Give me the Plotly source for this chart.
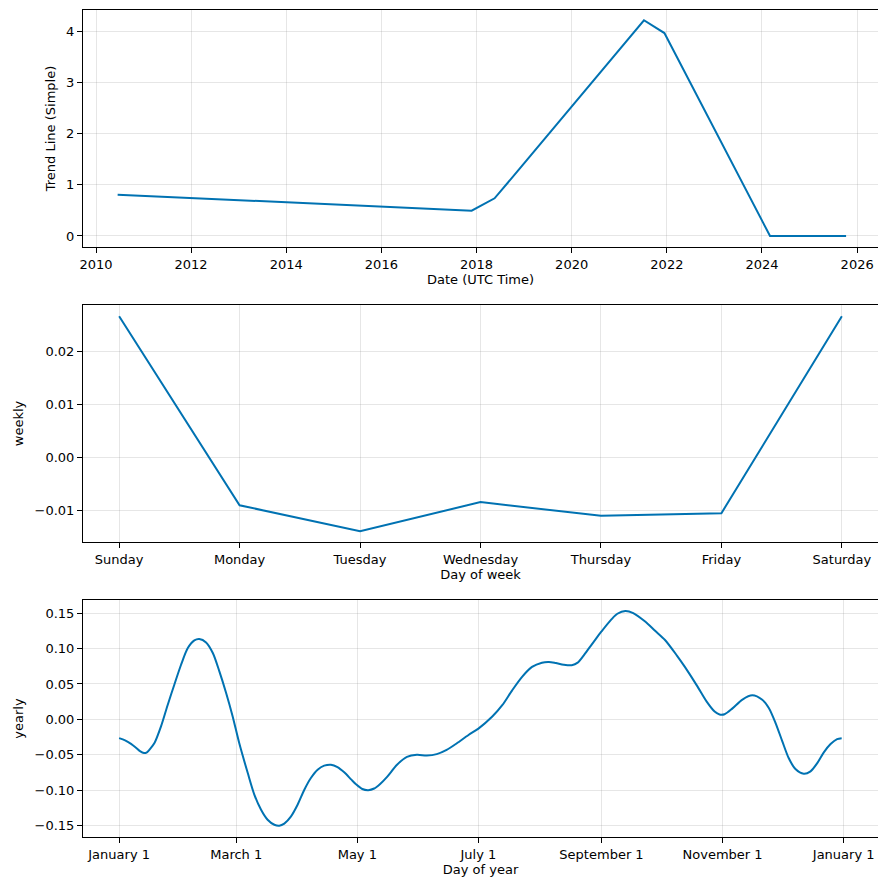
import pandas as pd
import plotly.graph_objects as go

# ---- data ----
trend_dates = ["2010-06-16", "2017-11-24", "2018-05-19", "2018-11-10",
               "2021-07-09", "2021-12-13", "2024-03-03", "2025-10-08"]
trend_values = [0.807, 0.494, 0.735, 1.26, 4.21, 3.96, 0.0, 0.0]

week_days = ["Sunday", "Monday", "Tuesday", "Wednesday", "Thursday", "Friday", "Saturday"]
weekly_values = [0.0266, -0.0091, -0.0140, -0.0085, -0.0111, -0.0106, 0.0266]

year_days = [0, 3, 6, 8.5, 10.5, 12.5, 14, 15.5, 17.8, 21.1, 24.5, 27.8, 31.2, 34.6,
             37.9, 40.4, 43.8, 47.2, 50.5, 53.9, 57.2, 60.5, 64.8, 68.1, 71.5, 74.8,
             78.2, 80.7, 83.2, 86.6, 89.9, 93.3, 96.6, 100, 103.3, 106.7, 110, 113.4,
             117, 119.5, 122.5, 125.5, 128.5, 131.5, 135, 140, 145, 150, 155, 160, 165,
             170, 176, 181, 188, 193, 198, 203, 208, 213, 216.5, 220, 224, 228, 231,
             234, 237, 240, 243, 248, 251, 255, 259, 265, 270, 275, 281, 285, 291, 296,
             300, 302.5, 305, 309, 314, 319, 324, 327.3, 330.7, 334.1, 337.3, 340.7,
             344.9, 348.3, 351.7, 355, 358.4, 361.7, 364]
yearly_values = [-0.0265, -0.0295, -0.0345, -0.040, -0.0448, -0.0475, -0.0465, -0.042,
                 -0.0334, -0.0099, 0.0207, 0.0489, 0.0771, 0.1006, 0.1114, 0.1133, 0.1086,
                 0.0936, 0.0677, 0.0372, 0.0042, -0.0334, -0.0757, -0.106, -0.1274,
                 -0.1415, -0.1486, -0.1500, -0.147, -0.1368, -0.1204, -0.0992, -0.0827,
                 -0.071, -0.0653, -0.0639, -0.0672, -0.0747, -0.085, -0.092, -0.0982,
                 -0.0998, -0.0975, -0.091, -0.081, -0.064, -0.053, -0.050, -0.051,
                 -0.049, -0.043, -0.034, -0.022, -0.013, 0.004, 0.020, 0.041, 0.060,
                 0.074, 0.080, 0.081, 0.0795, 0.0772, 0.0765, 0.080, 0.090, 0.1015,
                 0.113, 0.124, 0.141, 0.149, 0.153, 0.150, 0.138, 0.125, 0.112, 0.090,
                 0.074, 0.048, 0.025, 0.011, 0.0068, 0.0072, 0.0155, 0.028, 0.034, 0.0277,
                 0.016, -0.0052, -0.031, -0.0545, -0.070, -0.0767, -0.0733, -0.0616,
                 -0.0465, -0.0348, -0.0278, -0.0265]

year_tick_dates = ["2017-01-01", "2017-03-01", "2017-05-01", "2017-07-01",
                   "2017-09-01", "2017-11-01", "2018-01-01"]
year_tick_labels = ["January 1", "March 1", "May 1", "July 1",
                    "September 1", "November 1", "January 1"]

base = pd.Timestamp("2017-01-01")
year_dates = [base + pd.Timedelta(days=d) for d in year_days]

LINE = "#0072B2"
GRID = "rgba(128,128,128,0.2)"
FONT = dict(family="DejaVu Sans", size=13, color="black")

fig = go.Figure()
fig.add_trace(go.Scatter(x=pd.to_datetime(trend_dates), y=trend_values, mode="lines",
                         line=dict(color=LINE, width=2), xaxis="x", yaxis="y"))
fig.add_trace(go.Scatter(x=list(range(len(week_days))), y=weekly_values, mode="lines",
                         line=dict(color=LINE, width=2), xaxis="x2", yaxis="y2"))
fig.add_trace(go.Scatter(x=year_dates, y=yearly_values, mode="lines",
                         line=dict(color=LINE, width=2, shape="spline", smoothing=0.8),
                         xaxis="x3", yaxis="y3"))

common = dict(showline=True, linecolor="black", linewidth=1, mirror=True,
              ticks="outside", ticklen=5, tickwidth=1, tickcolor="black",
              showgrid=True, gridcolor=GRID, gridwidth=1, zeroline=False,
              tickfont=FONT, title_font=FONT)

# page body adds an 8px offset; compensate so plot boxes land where the reference has them
W, H = 878, 882
t, b, l, r = 2, 53, 75, 8
ph = H - t - b
def dom(top_px, bot_px):
    top_px -= 8
    bot_px -= 8
    return [(H - b - bot_px) / ph, (H - b - top_px) / ph]

fig.update_layout(
    width=W, height=H, showlegend=False,
    plot_bgcolor="white", paper_bgcolor="white",
    margin=dict(l=l, r=r, t=t, b=b),
    font=FONT,
    xaxis=dict(**common, domain=[0, 1], anchor="y", type="date",
               range=["2009-09-23", "2026-06-10"],
               tickvals=[f"{y}-01-01" for y in range(2010, 2027, 2)],
               ticktext=[str(y) for y in range(2010, 2027, 2)],
               title=dict(text="Date (UTC Time)", standoff=4)),
    yaxis=dict(**common, domain=dom(10, 247), anchor="x", range=[-0.215, 4.41],
               tickvals=[0, 1, 2, 3, 4], ticktext=["0", "1", "2", "3", "4"],
               title=dict(text="Trend Line (Simple)", standoff=7)),
    xaxis2=dict(**common, domain=[0, 1], anchor="y2", range=[-0.3, 6.3],
                tickvals=list(range(len(week_days))), ticktext=week_days,
                title=dict(text="Day of week", standoff=4)),
    yaxis2=dict(**common, domain=dom(305, 542), anchor="x2", range=[-0.01604, 0.02874],
                tickvals=[-0.01, 0.0, 0.01, 0.02],
                ticktext=["\u22120.01", "0.00", "0.01", "0.02"],
                title=dict(text="weekly", standoff=8)),
    xaxis3=dict(**common, domain=[0, 1], anchor="y3", type="date",
                range=[base - pd.Timedelta(days=18.2), base + pd.Timedelta(days=382.3)],
                tickvals=pd.to_datetime(year_tick_dates), ticktext=year_tick_labels,
                title=dict(text="Day of year", standoff=4)),
    yaxis3=dict(**common, domain=dom(600, 837), anchor="x3", range=[-0.1659, 0.1684],
                tickvals=[-0.15, -0.10, -0.05, 0.0, 0.05, 0.10, 0.15],
                ticktext=["\u22120.15", "\u22120.10", "\u22120.05", "0.00", "0.05", "0.10", "0.15"],
                title=dict(text="yearly", standoff=8)),
)

fig.write_html("out.html")
